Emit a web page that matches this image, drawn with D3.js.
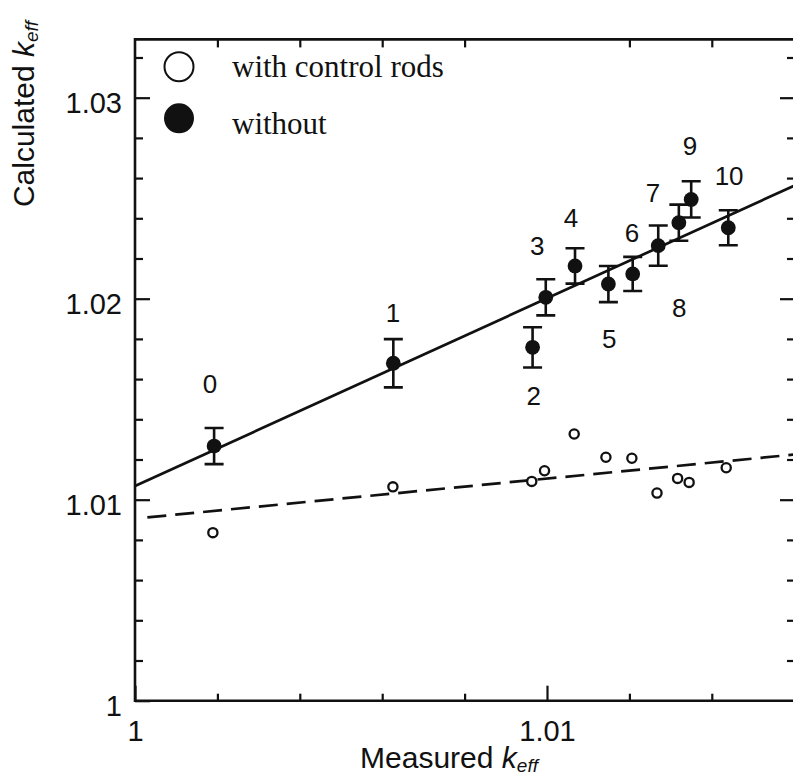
<!DOCTYPE html>
<html>
<head>
    <script src="https://d3js.org/d3.v7.min.js"></script>
    <style>
        body { margin: 0; background: #fff; }
        text { fill: #111; }
    </style>
</head>
<body>
	<svg id="svg1" width="793" height="776"></svg>
	<script>
		// filled points: without control rods
		var measured = [1.00192, 1.00627, 1.00965, 1.00997, 1.01068, 1.01149, 1.01208, 1.0127, 1.0132, 1.0135, 1.0144];
		var calculated = [1.01267, 1.01679, 1.01758, 1.02007, 1.02163, 1.02073, 1.02123, 1.02264, 1.02378, 1.02494, 1.02353];
		var errors = [0.0009, 0.0012, 0.001, 0.0009, 0.00088, 0.0009, 0.00085, 0.001, 0.0009, 0.0009, 0.00087];
		var pointLabels = ["0", "1", "2", "3", "4", "5", "6", "7", "8", "9", "10"];
		var labelX = [1.00182, 1.00626, 1.00968, 1.00976, 1.01058, 1.01151, 1.01206, 1.01257, 1.01321, 1.01347, 1.01442];
		var labelY = [1.01529, 1.01886, 1.01471, 1.02217, 1.02358, 1.01755, 1.02284, 1.02483, 1.0191, 1.02715, 1.02566];

		// open points: with control rods
		var measuredRods = [1.00189, 1.00626, 1.00963, 1.00994, 1.01066, 1.01143, 1.01206, 1.01267, 1.01317, 1.01345, 1.01435];
		var calculatedRods = [1.00836, 1.01064, 1.01091, 1.01144, 1.01327, 1.01211, 1.01206, 1.01033, 1.01106, 1.01086, 1.01159];

		// fitted lines: [intercept at k=1, slope, start x]
		var fitWithout = [1.01068, 0.934, 1.0];
		var fitRods = [1.00906, 0.199, 1.0003];

		var xMajor = [1, 1.01];
		var yMajor = [1, 1.01, 1.02, 1.03];
		var xTickLabels = ["1", "1.01"];
		var yTickLabels = ["1", "1.01", "1.02", "1.03"];
		var legendLabels = ["with control rods", "without"];

		var svg = d3.select("#svg1");
		var x = d3.scaleLinear().domain([1, 1.016]).range([135, 794.2]);
		var y = d3.scaleLinear().domain([1, 1.0329]).range([700.7, 39.4]);
		var x0 = x.range()[0], x1 = x.range()[1], y0 = y.range()[0], y1 = y.range()[1];
		var frameR = x1 + 1.8;

		var xMinor = d3.range(0, 9).map(function(i){ return 1 + i * 0.002; }).filter(function(v){ return v <= 1.016 && xMajor.indexOf(+v.toFixed(4)) < 0; });
		var yMinor = d3.range(0, 17).map(function(i){ return 1 + i * 0.002; }).filter(function(v){ return v <= 1.0329 && yMajor.indexOf(+v.toFixed(4)) < 0; });

		function fmtX(d) { return xTickLabels[xMajor.indexOf(+d.toFixed(4))]; }
		function fmtY(d) { return yTickLabels[yMajor.indexOf(+d.toFixed(4))]; }

		// axes with ticks pointing in
		function addAxis(axis, tx, ty, size, vals, fmt) {
			var g = svg.append("g").attr("transform", "translate(" + tx + "," + ty + ")")
				.call(axis.tickValues(vals).tickSize(size).tickSizeOuter(0).tickFormat(fmt || ""));
			g.select(".domain").remove();
			g.selectAll(".tick line").attr("stroke", "#111").attr("stroke-width", 2.2);
			return g;
		}
		var bx = addAxis(d3.axisBottom(x), 0, y0, -15, xMajor, fmtX);
		addAxis(d3.axisBottom(x), 0, y0, -7, xMinor);
		addAxis(d3.axisTop(x), 0, y1, -8, xMinor);
		var ly = addAxis(d3.axisLeft(y), x0, 0, -15, yMajor, fmtY);
		addAxis(d3.axisLeft(y), x0, 0, -8, yMinor);
		addAxis(d3.axisRight(y), frameR, 0, -16, yMajor.filter(function(v){ return v > 1; }));
		addAxis(d3.axisRight(y), frameR, 0, -9, yMinor);

		bx.selectAll(".tick text").attr("font-family", "Liberation Sans, Arial, sans-serif").attr("font-size", 29)
			.attr("y", 0).attr("dy", 40).attr("fill", "#111");
		ly.selectAll(".tick text").attr("font-family", "Liberation Sans, Arial, sans-serif").attr("font-size", 29)
			.attr("x", -13).attr("dy", "0.5em").attr("fill", "#111");

		// frame
		svg.append("path")
			.attr("d", "M" + x0 + "," + y1 + "H" + frameR + "V" + y0 + "H" + x0 + "Z")
			.attr("fill", "none").attr("stroke", "#111").attr("stroke-width", 2.6);

		// fit lines
		var lineGen = d3.line().x(function(d){ return x(d[0]); }).y(function(d){ return y(d[1]); });
		function fitPts(f) {
			return [f[2], 1.016].map(function(k){ return [k, f[0] + f[1] * (k - 1)]; });
		}
		svg.append("path").attr("d", lineGen(fitPts(fitWithout)))
			.attr("fill", "none").attr("stroke", "#111").attr("stroke-width", 2.7);
		svg.append("path").attr("d", lineGen(fitPts(fitRods)))
			.attr("fill", "none").attr("stroke", "#111").attr("stroke-width", 2.7)
			.attr("stroke-dasharray", "19,9");

		// open points
		svg.selectAll(".rod").data(measuredRods).enter().append("circle")
			.attr("cx", function(d){ return x(d); })
			.attr("cy", function(d, i){ return y(calculatedRods[i]); })
			.attr("r", 4.6).attr("fill", "#fff").attr("stroke", "#111").attr("stroke-width", 2.3);

		// error bars and filled points
		var eb = svg.selectAll(".eb").data(measured).enter().append("g");
		eb.append("path")
			.attr("d", function(d, i) {
				var cx = x(d), t = y(calculated[i] + errors[i]), b = y(calculated[i] - errors[i]);
				return "M" + cx + "," + t + "V" + b + "M" + (cx - 9.5) + "," + t + "H" + (cx + 9.5) + "M" + (cx - 9.5) + "," + b + "H" + (cx + 9.5);
			})
			.attr("fill", "none").attr("stroke", "#111").attr("stroke-width", 2.6);
		eb.append("circle")
			.attr("cx", function(d){ return x(d); })
			.attr("cy", function(d, i){ return y(calculated[i]); })
			.attr("r", 7.4).attr("fill", "#111");

		svg.selectAll(".plabel").data(pointLabels).enter().append("text")
			.attr("x", function(d, i){ return x(labelX[i]); })
			.attr("y", function(d, i){ return y(labelY[i]); })
			.attr("text-anchor", "middle")
			.attr("font-family", "Liberation Sans, Arial, sans-serif").attr("font-size", 26)
			.text(function(d){ return d; });

		// legend
		var leg = svg.append("g");
		leg.append("circle").attr("cx", 179).attr("cy", 66.7).attr("r", 14.5)
			.attr("fill", "#fff").attr("stroke", "#111").attr("stroke-width", 2);
		leg.append("circle").attr("cx", 179).attr("cy", 118.3).attr("r", 15).attr("fill", "#111");
		leg.selectAll(".lt").data(legendLabels).enter().append("text")
			.attr("x", 232).attr("y", function(d, i){ return i ? 134 : 76.5; })
			.attr("font-family", "Liberation Serif, Times New Roman, serif").attr("font-size", 31)
			.text(function(d){ return d; });

		// axis titles
		var xt = svg.append("text").attr("x", 449).attr("y", 768).attr("text-anchor", "middle")
			.attr("font-family", "Liberation Sans, Arial, sans-serif").attr("font-size", 30);
		xt.append("tspan").text("Measured ");
		xt.append("tspan").attr("font-style", "italic").text("k");
		xt.append("tspan").attr("font-style", "italic").attr("font-size", 19).attr("dy", 4).text("eff");

		var yt = svg.append("text").attr("transform", "translate(34,114) rotate(-90)").attr("text-anchor", "middle")
			.attr("font-family", "Liberation Sans, Arial, sans-serif").attr("font-size", 30);
		yt.append("tspan").text("Calculated ");
		yt.append("tspan").attr("font-style", "italic").text("k");
		yt.append("tspan").attr("font-style", "italic").attr("font-size", 19).attr("dy", 4).text("eff");
	</script>
</body>
</html>
